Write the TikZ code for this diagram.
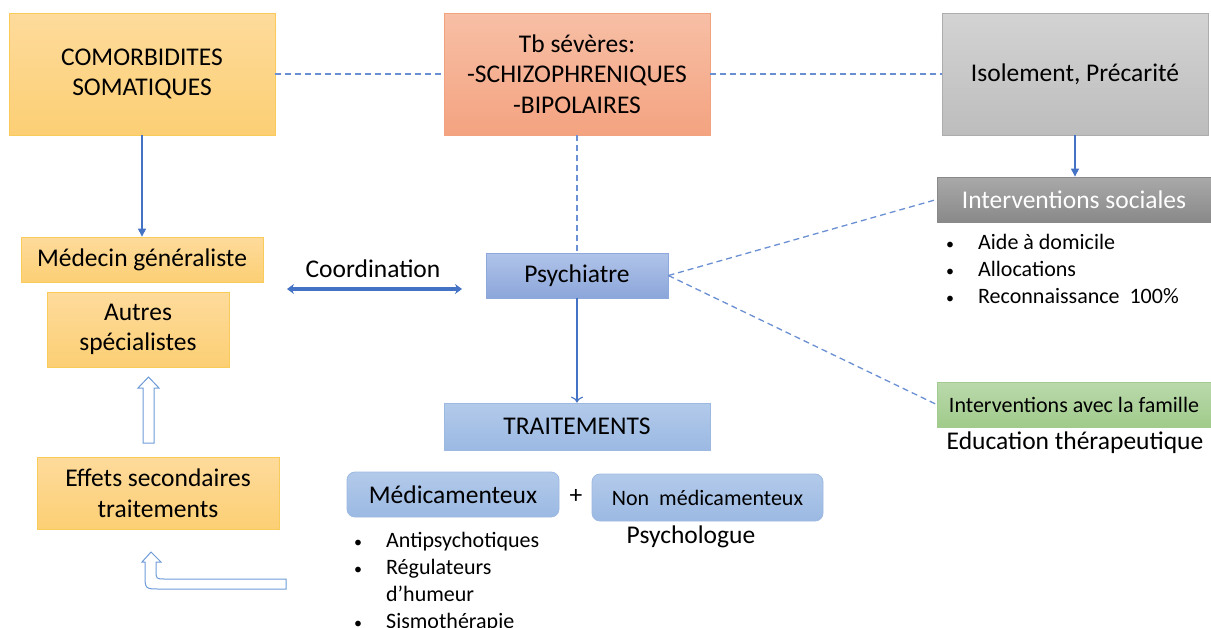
\documentclass[tikz,border=0pt]{standalone}
\usepackage{fontspec}
\setmainfont{Carlito}
\usetikzlibrary{arrows.meta}
\definecolor{linkblue}{HTML}{4472C4}
\definecolor{dashblue}{HTML}{6A8FD2}
\definecolor{orT}{HTML}{FEDB9C}
\definecolor{orB}{HTML}{FCCF74}
\definecolor{orD}{HTML}{F9CB5A}
\definecolor{saT}{HTML}{F7BFA6}
\definecolor{saB}{HTML}{F4A380}
\definecolor{saD}{HTML}{F2A27E}
\definecolor{grT}{HTML}{D3D3D3}
\definecolor{grB}{HTML}{BDBDBD}
\definecolor{grD}{HTML}{ADADAD}
\definecolor{dgT}{HTML}{A9A9A9}
\definecolor{dgB}{HTML}{898989}
\definecolor{blT}{HTML}{B0C4E9}
\definecolor{blB}{HTML}{8CA6DA}
\definecolor{blD}{HTML}{8FA8DB}
\definecolor{lbT}{HTML}{B3CAEA}
\definecolor{lbB}{HTML}{9BB9E3}
\definecolor{lbD}{HTML}{9DB9E2}
\definecolor{gnT}{HTML}{BAD9AC}
\definecolor{gnB}{HTML}{A0CB8A}
\definecolor{gnD}{HTML}{A3CB8F}
\definecolor{hollow}{HTML}{6E9BD8}
\newcommand{\mybul}{{\fontsize{16}{16}\selectfont •}}
\begin{document}
\begin{tikzpicture}[x=1pt,y=-1pt,
  box/.style={draw, line width=0.8pt, inner sep=0pt, align=center},
  obox/.style={box, draw=orD, top color=orT, bottom color=orB},
  sbox/.style={box, draw=saD, top color=saT, bottom color=saB},
  gbox/.style={box, draw=grD, top color=grT, bottom color=grB},
  dbox/.style={box, draw=dgB, top color=dgT, bottom color=dgB, text=white},
  bbox/.style={box, draw=blD, top color=blT, bottom color=blB},
  lbox/.style={box, draw=lbD, top color=lbT, bottom color=lbB},
  rbox/.style={box, draw=lbD, top color=lbT, bottom color=lbB, rounded corners=8pt},
  fbox/.style={box, draw=gnD, top color=gnT, bottom color=gnB},
  big/.style={font=\fontsize{25.5}{30.5}\selectfont},
  small/.style={font=\fontsize{22}{27}\selectfont},
  dashlink/.style={draw=dashblue, line width=1.3pt, dash pattern=on 6pt off 4pt},
  solidlink/.style={draw=linkblue, line width=1.1pt},
  hollowarrow/.style={draw=hollow, line width=1pt, fill=white}
]
\useasboundingbox (0,0) rectangle (1211,627);

% top row
\node[obox, big, minimum width=266pt, minimum height=122pt] (como) at (142,74) {COMORBIDITES\\SOMATIQUES};
\node[sbox, big, minimum width=266pt, minimum height=122pt] (tb) at (577,74) {Tb sévères:\\-SCHIZOPHRENIQUES\\-BIPOLAIRES};
\node[gbox, big, minimum width=266pt, minimum height=122pt] (iso) at (1075,74) {Isolement, Précarité};

% left column
\node[obox, big, minimum width=242pt, minimum height=45pt] (med) at (142,259.5) {Médecin généraliste};
\node[obox, big, minimum width=182pt, minimum height=75pt] (autres) at (138,329.5) {Autres\\spécialistes};
\node[obox, big, minimum width=242pt, minimum height=72pt] (effets) at (158,493) {Effets secondaires\\traitements};

% centre
\node[bbox, big, minimum width=182pt, minimum height=45pt] (psy) at (577,275.5) {Psychiatre};
\node[lbox, big, minimum width=266pt, minimum height=47pt] (trait) at (577,426.5) {TRAITEMENTS};
\node[rbox, big, minimum width=212pt, minimum height=45pt] (medic) at (453,494.5) {Médicamenteux};
\node[rbox, small, minimum width=231pt, minimum height=47pt] (nonmedic) at (707.5,497.5) {Non\ \ médicamenteux};
\node[big] (plus) at (576,496) {+};
\node[big] (psycho) at (691,537) {Psychologue};
\node[small, anchor=base west, inner sep=0pt] (mlist) at (354,547) {\begin{tabular}[t]{@{}l@{\hspace{24pt}}l@{}}\mybul&Antipsychotiques\\\mybul&Régulateurs\\&d’humeur\\\mybul&Sismothérapie\end{tabular}};

% right column
\node[dbox, big, minimum width=274pt, minimum height=45pt] (soc) at (1074,199.5) {Interventions sociales};
\node[small, anchor=base west, inner sep=0pt] (slist) at (946,249) {\begin{tabular}[t]{@{}l@{\hspace{24pt}}l@{}}\mybul&Aide à domicile\\\mybul&Allocations\\\mybul&Reconnaissance\ \ 100\%\end{tabular}};
\node[fbox, small, minimum width=274pt, minimum height=45pt] (fam) at (1074,404.5) {Interventions avec la famille};
\node[big] (edu) at (1075,443) {Education thérapeutique};

% coordination
\node[big] (coord) at (373,269) {Coordination};
\coordinate (cl) at (287,289);
\coordinate (cr) at (462,289);
\draw[draw=linkblue, line width=3.5pt, {Stealth[length=7pt,width=10pt]}-{Stealth[length=7pt,width=10pt]}] (cl) -- (cr);

% dashed links
\draw[dashlink] (como.east) -- (tb.west);
\draw[dashlink] (tb.east) -- (iso.west);
\draw[dashlink] (tb.south) -- (psy.north);
\draw[dashlink] (psy.east) -- (soc.west);
\draw[dashlink] (psy.east) -- (fam.west);

% solid arrows
\draw[solidlink, -{Triangle[length=8pt,width=8pt]}] (como.south) -- (med.north -| como.south);
\draw[solidlink, -{Triangle[length=8pt,width=8pt]}] (iso.south) -- (soc.north -| iso.south);
\draw[solidlink, -{To[length=6pt,width=12pt]}] (psy.south) -- (trait.north);

% hollow arrows
\draw[hollowarrow] (143,443) -- (143,388) -- (138,388) -- (148.5,377) -- (159,388) -- (154,388) -- (154,443) -- cycle;
\draw[hollowarrow] (286,589) -- (160,589) .. controls (145,589) .. (145,574) -- (145,562) -- (142,562) -- (151,552) -- (161,562) -- (156,562) -- (156,570) .. controls (156,579) .. (165,579) -- (286,579) -- cycle;
\end{tikzpicture}
\end{document}
